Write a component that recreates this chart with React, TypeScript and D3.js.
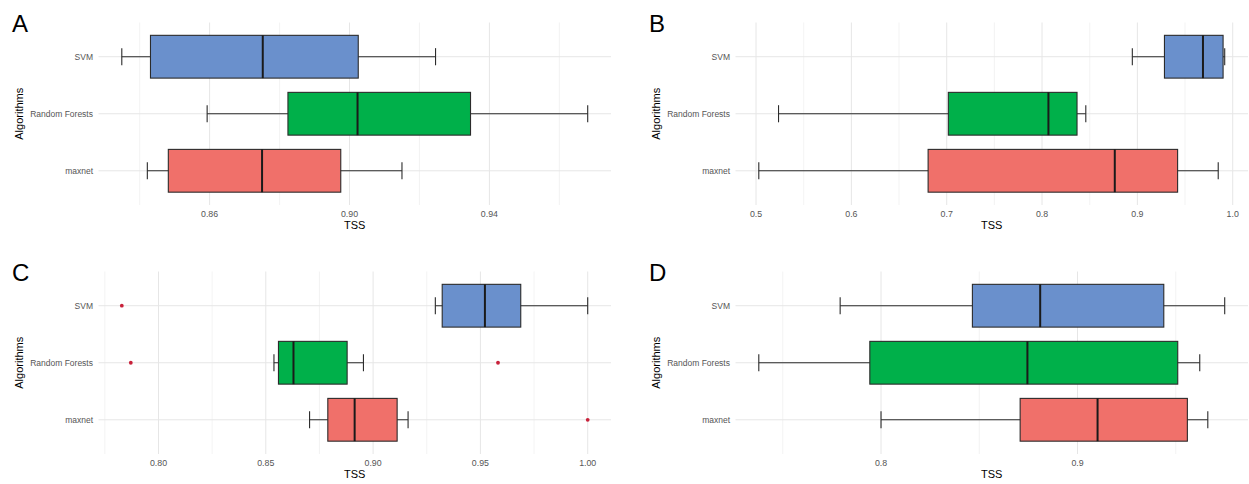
import React, { useEffect, useRef } from "react";
import * as d3 from "d3";

const algorithms = ["SVM", "Random Forests", "maxnet"];
const algoColors = ["#6a90cc", "#00b04a", "#f0706a"];
const panelNames = ["A", "B", "C", "D"];

// [lower whisker, Q1, median, Q3, upper whisker] in order SVM, Random Forests, maxnet
const statsA = [
  [0.8349, 0.8431, 0.8752, 0.9025, 0.9246],
  [0.8593, 0.8824, 0.9023, 0.9346, 0.9681],
  [0.8422, 0.8482, 0.875, 0.8975, 0.915],
];
const statsB = [
  [0.8947, 0.9284, 0.9688, 0.9899, 0.9916],
  [0.5236, 0.7017, 0.8067, 0.8367, 0.8459],
  [0.5029, 0.6805, 0.8763, 0.9422, 0.9848],
];
const statsC = [
  [0.929, 0.9322, 0.9521, 0.9688, 1.0],
  [0.8538, 0.8559, 0.8629, 0.8879, 0.8955],
  [0.8704, 0.8789, 0.8914, 0.9112, 0.9163],
];
const statsD = [
  [0.7792, 0.8465, 0.881, 0.9439, 0.9749],
  [0.7378, 0.7943, 0.8745, 0.951, 0.9622],
  [0.8, 0.8708, 0.9102, 0.9559, 0.9663],
];

const outliersA = [[], [], []];
const outliersB = [[], [], []];
const outliersC = [[0.7829], [0.7871, 0.9582], [1.0]];
const outliersD = [[], [], []];

const majorA = [0.86, 0.9, 0.94];
const minorA = [0.84, 0.88, 0.92, 0.96];
const majorB = [0.5, 0.6, 0.7, 0.8, 0.9, 1.0];
const minorB = [0.55, 0.65, 0.75, 0.85, 0.95];
const majorC = [0.8, 0.85, 0.9, 0.95, 1.0];
const minorC = [0.775, 0.825, 0.875, 0.925, 0.975];
const majorD = [0.8, 0.9];
const minorD = [0.75, 0.85, 0.95];

const W = 1249;
const H = 484;
const FONT = "'Liberation Sans', Arial, sans-serif";

function drawPanel(svg, ox, oy, name, stats, outliers, major, minor, digits) {
  const left = 98.5, right = 611, top = 22.5, bottom = 205;
  const g = svg.append("g").attr("transform", `translate(${ox},${oy})`);

  const all = stats.flat().concat(outliers.flat());
  const [lo, hi] = d3.extent(all);
  const pad = (hi - lo) * 0.05;
  const x = d3.scaleLinear().domain([lo - pad, hi + pad]).range([left, right]);
  const y = d3.scalePoint().domain(algorithms).range([top, bottom]).padding(0.6);
  const step = y.step();

  // grid
  g.selectAll(".minor").data(minor).enter().append("line")
    .attr("x1", d => x(d)).attr("x2", d => x(d))
    .attr("y1", top).attr("y2", bottom)
    .attr("stroke", "#f0f0f0").attr("stroke-width", 0.8);
  g.selectAll(".major").data(major).enter().append("line")
    .attr("x1", d => x(d)).attr("x2", d => x(d))
    .attr("y1", top).attr("y2", bottom)
    .attr("stroke", "#e6e6e6").attr("stroke-width", 1);
  g.selectAll(".hgrid").data(algorithms).enter().append("line")
    .attr("x1", left).attr("x2", right)
    .attr("y1", d => y(d)).attr("y2", d => y(d))
    .attr("stroke", "#e6e6e6").attr("stroke-width", 1);

  // boxes
  stats.forEach((s, i) => {
    const cy = y(algorithms[i]);
    const bh = step * 0.75;
    const cap = step * 0.15;
    const b = g.append("g");
    b.append("line").attr("x1", x(s[0])).attr("x2", x(s[4])).attr("y1", cy).attr("y2", cy)
      .attr("stroke", "#2b2b2b").attr("stroke-width", 1.1);
    [s[0], s[4]].forEach(v => {
      b.append("line").attr("x1", x(v)).attr("x2", x(v)).attr("y1", cy - cap).attr("y2", cy + cap)
        .attr("stroke", "#2b2b2b").attr("stroke-width", 1.1);
    });
    b.append("rect").attr("x", x(s[1])).attr("y", cy - bh / 2)
      .attr("width", x(s[3]) - x(s[1])).attr("height", bh)
      .attr("fill", algoColors[i]).attr("stroke", "#2b2b2b").attr("stroke-width", 1.1);
    b.append("line").attr("x1", x(s[2])).attr("x2", x(s[2])).attr("y1", cy - bh / 2).attr("y2", cy + bh / 2)
      .attr("stroke", "#1a1a1a").attr("stroke-width", 2);
    outliers[i].forEach(v => {
      b.append("circle").attr("cx", x(v)).attr("cy", cy).attr("r", 1.9).attr("fill", "#c8213a");
    });
  });

  // axis text
  g.selectAll(".xt").data(major).enter().append("text")
    .attr("x", d => x(d)).attr("y", bottom + 11.5)
    .attr("text-anchor", "middle").attr("font-size", 8.8).attr("font-family", FONT)
    .attr("fill", "#555").text(d => d.toFixed(digits));
  g.selectAll(".yt").data(algorithms).enter().append("text")
    .attr("x", left - 5.5).attr("y", d => y(d)).attr("dy", "0.35em")
    .attr("text-anchor", "end").attr("font-size", 8.5).attr("font-family", FONT)
    .attr("fill", "#555").text(d => d);
  g.append("text").attr("x", (left + right) / 2).attr("y", bottom + 23.5)
    .attr("text-anchor", "middle").attr("font-size", 11).attr("font-family", FONT)
    .attr("fill", "#000").text("TSS");
  g.append("text").attr("transform", `translate(23,${(top + bottom) / 2}) rotate(-90)`)
    .attr("text-anchor", "middle").attr("font-size", 11).attr("font-family", FONT)
    .attr("fill", "#000").text("Algorithms");
  g.append("text").attr("x", 12).attr("y", 32)
    .attr("font-size", 24).attr("font-family", FONT).attr("fill", "#000").text(name);
}

export default function App() {
  const svgRef = useRef(null);

  useEffect(() => {
    const svg = d3.select(svgRef.current);
    svg.selectAll("*").remove();
    svg.append("rect").attr("width", W).attr("height", H).attr("fill", "#fff");
    drawPanel(svg, 0, 0, panelNames[0], statsA, outliersA, majorA, minorA, 2);
    drawPanel(svg, 637, 0, panelNames[1], statsB, outliersB, majorB, minorB, 1);
    drawPanel(svg, 0, 249, panelNames[2], statsC, outliersC, majorC, minorC, 2);
    drawPanel(svg, 637, 249, panelNames[3], statsD, outliersD, majorD, minorD, 1);
  }, []);

  return (
    <svg ref={svgRef} width={W} height={H}
      style={{ position: "absolute", left: 0, top: 0, display: "block" }} />
  );
}
